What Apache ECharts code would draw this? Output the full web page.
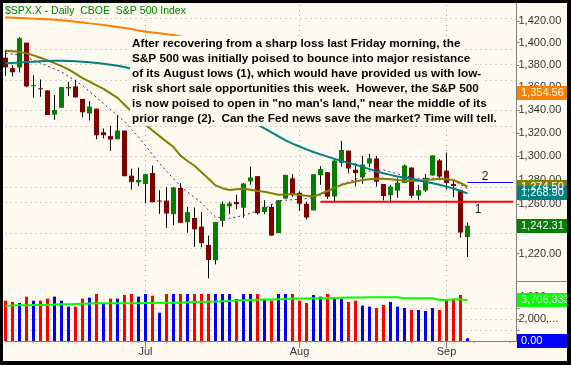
<!DOCTYPE html>
<html><head><meta charset="utf-8">
<script src="https://cdn.jsdelivr.net/npm/echarts@6/dist/echarts.min.js"></script>
<style>html,body{margin:0;padding:0;background:#fffaf0}#c{width:571px;height:365px}</style>
</head><body><div id="c"></div>
<script>
// ---------- data ----------
const dates = ['6/3','6/4','6/5','6/6','6/9','6/10','6/11','6/12','6/13','6/16','6/17','6/18','6/19','6/20','6/23','6/24','6/25','6/26','6/27','6/30',
'7/1','7/2','7/3','7/7','7/8','7/9','7/10','7/11','7/14','7/15','7/16','7/17','7/18','7/21','7/22','7/23','7/24','7/25','7/28','7/29','7/30','7/31',
'8/1','8/4','8/5','8/6','8/7','8/8','8/11','8/12','8/13','8/14','8/15','8/18','8/19','8/20','8/21','8/22','8/25','8/26','8/27','8/28','8/29',
'9/2','9/3','9/4','9/5'];
const futureDates = ['9/8','9/9','9/10','9/11','9/12','9/15','9/16'];
const opens = [1386.42,1377.0,1377.48,1400.06,1360.83,1358.98,1357.09,1335.78,1341.81,1358.85,1360.71,1349.59,1336.89,1341.02,1320.5,1317.23,1314.54,1321.97,1283.60,1278.06,
1276.69,1285.82,1262.96,1262.90,1251.84,1273.38,1245.25,1248.66,1241.61,1226.83,1214.65,1246.31,1258.22,1261.82,1257.08,1278.87,1283.22,1253.51,1257.76,1236.38,1264.52,1281.37,
1269.42,1260.31,1254.87,1283.99,1286.51,1266.29,1294.42,1304.79,1288.64,1282.11,1293.85,1298.14,1276.65,1267.34,1271.07,1277.59,1290.47,1267.03,1271.29,1283.79,1296.49,
1287.83,1276.61,1271.80,1233.21];
const highs = [1393.12,1379.9,1405.0,1400.06,1370.63,1366.84,1357.09,1353.03,1360.03,1364.70,1366.59,1349.59,1347.66,1341.02,1323.78,1326.02,1335.63,1321.97,1289.45,1290.31,
1285.31,1292.17,1271.48,1273.95,1274.17,1277.36,1257.65,1257.27,1253.50,1234.35,1245.52,1262.31,1262.23,1267.74,1277.42,1291.17,1283.22,1263.23,1260.09,1263.20,1284.33,1284.93,
1270.52,1262.0,1284.88,1291.67,1286.51,1297.85,1313.15,1304.79,1294.03,1300.11,1302.05,1300.22,1276.65,1276.01,1281.40,1293.09,1290.47,1275.65,1285.05,1300.68,1297.59,
1303.04,1280.60,1271.80,1244.94];
const lows = [1370.12,1369.6,1373.07,1359.90,1350.62,1351.54,1335.47,1331.29,1341.71,1352.07,1350.54,1333.40,1330.66,1314.46,1315.31,1304.42,1314.54,1283.11,1272.00,1274.86,
1260.68,1261.51,1252.01,1240.68,1242.84,1244.57,1236.76,1225.35,1225.01,1200.44,1211.39,1241.49,1251.81,1255.70,1248.83,1276.06,1251.48,1251.75,1234.37,1236.38,1264.52,1265.97,
1254.54,1247.45,1254.67,1276.00,1264.29,1262.11,1291.41,1285.64,1274.86,1276.84,1290.74,1274.51,1263.11,1261.16,1265.22,1277.59,1264.87,1263.21,1270.03,1283.79,1279.80,
1272.20,1265.59,1232.83,1217.23];
const closes = [1377.65,1373.3,1404.05,1360.68,1361.76,1358.44,1335.49,1339.87,1360.03,1360.14,1350.93,1337.81,1342.83,1317.93,1318.00,1314.29,1321.97,1283.15,1278.38,1280.00,
1284.91,1261.52,1262.90,1252.31,1273.70,1244.69,1253.39,1239.49,1228.30,1214.91,1245.36,1260.32,1260.68,1260.00,1277.00,1282.19,1252.54,1257.76,1234.37,1263.20,1284.26,1267.38,
1260.31,1249.01,1284.88,1289.19,1266.07,1296.32,1305.32,1289.59,1285.83,1292.93,1298.20,1278.60,1266.69,1274.54,1277.72,1292.20,1266.84,1271.51,1281.66,1300.68,1282.83,
1277.58,1274.98,1236.83,1242.31];
const prevClose = 1385.67;
// volume in millions
const volumes = [3.66,3.55,3.45,4.03,3.66,3.66,3.85,4.03,3.66,3.12,3.12,3.85,3.94,4.27,3.39,3.85,3.85,4.18,4.27,4.03,
4.27,4.12,2.57,4.27,4.27,4.27,4.27,4.27,4.27,4.27,4.27,4.27,4.27,3.82,4.27,4.27,4.27,3.82,3.66,4.27,4.27,4.27,
3.66,3.45,4.18,4.03,4.27,3.91,3.82,3.55,3.66,3.21,3.12,3.00,3.27,3.55,3.12,3.00,2.82,2.82,2.73,3.00,2.82,
3.82,3.82,4.18,0.25];
const volMA = [3.21,3.22,3.24,3.25,3.27,3.28,3.30,3.31,3.33,3.34,3.36,3.38,3.40,3.42,3.43,3.43,3.43,3.43,3.43,3.43,
3.45,3.46,3.48,3.48,3.48,3.48,3.51,3.54,3.57,3.57,3.58,3.61,3.64,3.67,3.71,3.73,3.74,3.76,3.77,3.79,3.81,3.85,
3.86,3.87,3.88,3.89,3.90,3.91,3.93,3.94,3.95,3.96,3.97,3.97,3.97,3.97,3.97,3.88,3.88,3.88,3.88,3.88,3.73,
3.73,3.79,3.76,3.706333];
const ma10 = [1390.4,1389.6,1388.8,1386.5,1384.0,1381.5,1378.8,1376.2,1373.5,1369.5,1365.5,1361.5,1356.0,1351.0,1345.5,1340.2,1334.8,1329.8,1323.0,1316.5,
1309.0,1301.5,1294.0,1287.5,1281.0,1274.8,1270.0,1265.5,1261.0,1255.0,1249.5,1248.8,1248.4,1249.5,1250.8,1252.5,1254.5,1256.3,1259.5,1262.8,1263.2,1263.6,
1264.0,1264.6,1265.2,1267.5,1269.8,1273.2,1276.5,1278.4,1280.3,1284.0,1287.5,1288.0,1288.4,1286.8,1285.1,1283.5,1282.4,1281.4,1281.4,1281.4,1281.4,
1280.5,1279.6,1276.3,1272.7];
const ma20 = [1392.7,1392.3,1391.8,1390.3,1388.5,1386.3,1384.0,1381.5,1378.7,1375.8,1372.0,1368.0,1364.8,1361.6,1358.5,1354.5,1350.5,1344.5,1338.5,1332.8,
1327.0,1322.0,1317.2,1312.5,1307.8,1300.5,1296.0,1292.0,1286.5,1281.0,1275.5,1273.2,1271.7,1272.2,1272.8,1271.8,1270.9,1270.2,1269.0,1267.8,1268.0,1268.3,
1267.6,1266.9,1266.2,1268.5,1270.8,1273.4,1276.0,1277.4,1278.8,1280.0,1280.7,1281.3,1281.0,1280.6,1280.0,1279.4,1279.4,1279.4,1279.9,1280.5,1281.0,
1280.6,1280.0,1277.5,1274.5];
const ma50 = [1381.3,1381.7,1382.1,1382.5,1382.8,1383.1,1383.4,1383.6,1383.7,1383.5,1383.2,1382.8,1382.3,1381.6,1380.9,1380.1,1379.1,1377.9,1376.5,1374.6,
1372.5,1370.2,1367.8,1365.3,1362.7,1360.0,1357.3,1354.5,1351.7,1348.9,1346.0,1343.1,1340.2,1337.2,1334.2,1331.0,1327.2,1323.8,1320.5,1317.0,1313.5,1310.8,
1308.3,1305.9,1303.6,1301.6,1299.7,1297.8,1296.1,1294.4,1292.8,1291.0,1289.1,1287.2,1285.7,1284.3,1283.0,1282.0,1281.0,1279.8,1278.6,1277.3,1276.0,
1274.5,1272.9,1270.9,1268.9];
const ma200 = [1423.4,1423.1,1422.8,1422.5,1422.2,1421.9,1421.6,1421.2,1420.6,1419.9,1419.2,1418.5,1417.8,1417.1,1416.3,1415.4,1414.5,1413.5,1412.5,1411.3,
1410.1,1409.3,1408.6,1407.8,1407.0,1405.8,1404.5,1403.2,1401.9,1400.6,1399.3,1398.0,1396.7,1395.4,1394.1,1392.8,1391.5,1390.2,1388.9,1387.6,1386.3,1385.0,
1383.7,1382.4,1381.1,1379.8,1378.5,1377.2,1375.9,1374.6,1373.3,1372.0,1370.7,1369.4,1368.1,1366.8,1365.6,1364.4,1363.2,1362.0,1360.8,1359.6,1358.4,
1357.3,1356.2,1355.2,1354.56];
const priceTicks = [1220,1240,1260,1280,1300,1320,1340,1360,1380,1400,1420];
const priceMin = 1198.33, priceMax = 1436.78;
const volTicks = [0,1,2,3,4];
const volLabelTicks = [0,2,4];
const volGrid = [1,2,3];
const volMax = 5.45;
const supportLevel = 1262;   // red line (1)
const midLevel = 1278;       // blue line (2)
const nextVolume = 0;        // blue box
const noteLines = [
 'After recovering from a sharp loss last Friday morning, the',
 'S&P 500 was initially poised to bounce into major resistance',
 'of its August lows (1), which would have provided us with low-',
 'risk short sale opportunities this week.  However, the S&P 500',
 'is now poised to open in "no man\'s land," near the middle of its',
 'prior range (2).  Can the Fed news save the market? Time will tell.'
];
const title = '$SPX.X - Daily  CBOE  S&P 500 Index';
const monthNames = ['Jan','Feb','Mar','Apr','May','Jun','Jul','Aug','Sep','Oct','Nov','Dec'];

// ---------- helpers ----------
const BG = '#fffaf0';
const FONT = 'Liberation Sans, Arial, sans-serif';
const L = Math.log;
function fmt(v, dec){ const s = v.toFixed(dec); const p = s.split('.'); return p[0].replace(/\B(?=(\d{3})+(?!\d))/g, ',') + (p[1] ? '.' + p[1] : ''); }
const cats = dates.concat(futureDates);
const dow = s => { const a = s.split('/').map(Number); return new Date(2008, a[0]-1, a[1]).getDay(); };
const mon = s => Number(s.split('/')[0]);
const isWeekStart = i => i > 0 && dow(cats[i]) < dow(cats[i-1]);
const isMonthStart = i => i > 0 && mon(cats[i]) !== mon(cats[i-1]);
const monthStartCats = cats.filter((c, i) => isMonthStart(i));

const candleData = closes.map((c, i) => [i, L(opens[i]), L(c), L(lows[i]), L(highs[i])]);
const volData = volumes.map((v, i) => ({ value: v, itemStyle: { color: closes[i] >= (i ? closes[i-1] : prevClose) ? '#0000ff' : '#ff0000' } }));

function renderCandle(params, api){
  const i = api.value(0);
  const o = api.coord([i, api.value(1)]);
  const c = api.coord([i, api.value(2)]);
  const l = api.coord([i, api.value(3)]);
  const h = api.coord([i, api.value(4)]);
  const x = o[0];
  const up = api.value(2) >= api.value(1);
  const top = Math.min(o[1], c[1]), bot = Math.max(o[1], c[1]);
  return { type: 'group', children: [
    { type: 'line', shape: { x1: x, y1: h[1], x2: x, y2: l[1] }, style: { stroke: '#000', lineWidth: 1 } },
    { type: 'rect', shape: { x: x - 2.5, y: top, width: 5, height: Math.max(bot - top, 1) }, style: { fill: up ? '#008000' : '#800000' } }
  ]};
}

const chart = echarts.init(document.getElementById('c'), null, { width: 571, height: 365 });
const gridLine = { type: [1, 4], color: '#a8a8a8', width: 1 };
const lineS = (name, data, color, width, z, xi, yi, type) => ({
  name, type: 'line', xAxisIndex: xi, yAxisIndex: yi, data, showSymbol: false, symbol: 'none', silent: true, z,
  lineStyle: { color, width, type: type || 'solid' }
});

chart.setOption({
  animation: false,
  backgroundColor: BG,
  grid: [
    { left: 5.5, right: 54.5, top: 3, height: 278, outerBoundsMode: 'none' },
    { left: 5.5, right: 54.5, top: 281, height: 60, outerBoundsMode: 'none' }
  ],
  xAxis: [
    { gridIndex: 0, type: 'category', data: cats, boundaryGap: false, show: false },
    { gridIndex: 1, type: 'category', data: cats, boundaryGap: false,
      axisLine: { show: true, lineStyle: { color: '#808080' } },
      axisTick: { show: true, interval: (i) => isWeekStart(i), length: 2, lineStyle: { color: '#808080' } },
      axisLabel: { show: false }, splitLine: { show: false } },
    { gridIndex: 1, type: 'category', data: cats, boundaryGap: false, position: 'bottom',
      axisLine: { show: false },
      axisTick: { show: true, interval: (i) => isMonthStart(i), length: 7, lineStyle: { color: '#808080' } },
      axisLabel: { interval: (i) => isMonthStart(i), formatter: (v) => monthNames[mon(v) - 1], color: '#333', fontSize: 11, fontFamily: FONT, margin: 5 },
      splitLine: { show: false } }
  ],
  yAxis: [
    { gridIndex: 0, type: 'value', position: 'right', min: L(priceMin), max: L(priceMax),
      axisLine: { show: true, lineStyle: { color: '#808080' } },
      axisTick: { show: true, length: 3, customValues: priceTicks.map(L), lineStyle: { color: '#808080' } },
      axisLabel: { customValues: priceTicks.map(L), formatter: (v) => fmt(Math.exp(v), 2), color: '#333', fontSize: 11, fontFamily: FONT, margin: 2 },
      splitLine: { show: false } },
    { gridIndex: 1, type: 'value', position: 'right', min: 0, max: volMax,
      axisLine: { show: true, lineStyle: { color: '#808080' } },
      axisTick: { show: true, length: 3, customValues: volTicks, lineStyle: { color: '#808080' } },
      axisLabel: { customValues: volLabelTicks, formatter: (v) => fmt(v * 1e6, 2), color: '#333', fontSize: 11, fontFamily: FONT, margin: 2, width: 47, overflow: 'truncate' },
      splitLine: { show: false } }
  ],
  series: [
    { type: 'line', xAxisIndex: 0, yAxisIndex: 0, data: [], silent: true, z: 1,
      markLine: { silent: true, z: 1, symbol: ['none', 'none'], label: { show: false }, lineStyle: gridLine, emphasis: { disabled: true },
        data: priceTicks.map(p => ({ yAxis: L(p) })).concat(monthStartCats.map(c => ({ xAxis: c }))) } },
    { type: 'line', xAxisIndex: 1, yAxisIndex: 1, data: [], silent: true, z: 1,
      markLine: { silent: true, z: 1, symbol: ['none', 'none'], label: { show: false }, lineStyle: gridLine, emphasis: { disabled: true },
        data: volGrid.map(v => ({ yAxis: v })).concat(monthStartCats.map(c => ({ xAxis: c }))) } },
    { type: 'custom', xAxisIndex: 0, yAxisIndex: 0, data: candleData, renderItem: renderCandle, encode: { x: 0, y: [1, 2, 3, 4] }, z: 2, silent: true, clip: false },
    lineS('ma200', ma200.map(L), '#ff8000', 2, 3, 0, 0),
    lineS('ma10', ma10.map(L), '#800080', 1, 3, 0, 0, [2, 3]),
    lineS('ma20', ma20.map(L), '#808000', 2, 4, 0, 0),
    lineS('ma50', ma50.map(L), '#008080', 2, 5, 0, 0),
    { type: 'bar', xAxisIndex: 1, yAxisIndex: 1, data: volData, barWidth: 3, silent: true, z: 2, clip: false },
    lineS('volMA', volMA, '#00ff00', 2, 4, 1, 1)
  ]
});

// ---------- overlays positioned through the chart's scales ----------
const yP = v => chart.convertToPixel({ yAxisIndex: 0 }, L(v));
const yV = v => chart.convertToPixel({ yAxisIndex: 1 }, v);
const xP = i => chart.convertToPixel({ xAxisIndex: 0 }, cats[i]);
const axisX = xP(cats.length - 1);
const g = [];
function valueBox(y, color, text){
  g.push({ type: 'rect', z: 60, shape: { x: axisX + 0.5, y: Math.round(y) - 7, width: 52, height: 14 }, style: { fill: color } });
  g.push({ type: 'text', z: 61, x: axisX + 4.5, y: Math.round(y), style: { text, fill: '#fff', font: '11px ' + FONT, verticalAlign: 'middle' } });
}
// annotation lines
const redStart = xP(45), lineEnd = (xP(72) + xP(73)) / 2;
g.push({ type: 'line', z: 40, shape: { x1: redStart, y1: yP(supportLevel), x2: lineEnd, y2: yP(supportLevel) }, style: { stroke: '#ff0000', lineWidth: 2 } });
g.push({ type: 'line', z: 40, shape: { x1: xP(66), y1: Math.round(yP(midLevel)) + 0.5, x2: lineEnd, y2: Math.round(yP(midLevel)) + 0.5 }, style: { stroke: '#0000ff', lineWidth: 1 } });
g.push({ type: 'text', z: 41, x: (xP(67) + xP(68)) / 2, y: yP(1255.6), style: { text: '1', fill: '#222', font: '12px ' + FONT, align: 'center', verticalAlign: 'middle' } });
g.push({ type: 'text', z: 41, x: (xP(68) + xP(69)) / 2, y: yP(1282.5), style: { text: '2', fill: '#222', font: '12px ' + FONT, align: 'center', verticalAlign: 'middle' } });
// commentary
noteLines.forEach((t, k) => {
  g.push({ type: 'text', z: 50, x: 130, y: 36 + 15 * k, style: { text: t, fill: '#000', font: 'bold 11.75px ' + FONT, backgroundColor: BG, padding: [0, 2, 0, 2], lineHeight: 15, verticalAlign: 'top' } });
});
g.push({ type: 'text', z: 50, x: 5, y: 6, style: { text: title, fill: '#008000', font: '10.5px ' + FONT, verticalAlign: 'top' } });
// value boxes
valueBox(yP(ma200[ma200.length - 1]), '#ff8000', fmt(ma200[ma200.length - 1], 2));
valueBox(yP(ma20[ma20.length - 1]), '#808000', fmt(ma20[ma20.length - 1], 2));
valueBox(yP(ma50[ma50.length - 1]), '#008080', fmt(ma50[ma50.length - 1], 2));
valueBox(yP(closes[closes.length - 1]), '#008000', fmt(closes[closes.length - 1], 2));
valueBox(yV(volMA[volMA.length - 1]), '#00ff00', fmt(volMA[volMA.length - 1] * 1e6, 0));
valueBox(yV(nextVolume), '#0000ff', fmt(nextVolume, 2));
// panel separator on the axis strip
g.push({ type: 'line', z: 55, shape: { x1: axisX, y1: 281.5, x2: 571, y2: 281.5 }, style: { stroke: '#808080', lineWidth: 1 } });
// frame
g.push({ type: 'rect', z: 100, shape: { x: 0, y: 0, width: 571, height: 3 }, style: { fill: '#000' } });
g.push({ type: 'rect', z: 100, shape: { x: 0, y: 0, width: 3, height: 365 }, style: { fill: '#000' } });
g.push({ type: 'rect', z: 100, shape: { x: 567, y: 0, width: 4, height: 365 }, style: { fill: '#000' } });
g.push({ type: 'rect', z: 100, shape: { x: 0, y: 361, width: 571, height: 4 }, style: { fill: '#000' } });
chart.setOption({ graphic: g });
</script></body></html>
